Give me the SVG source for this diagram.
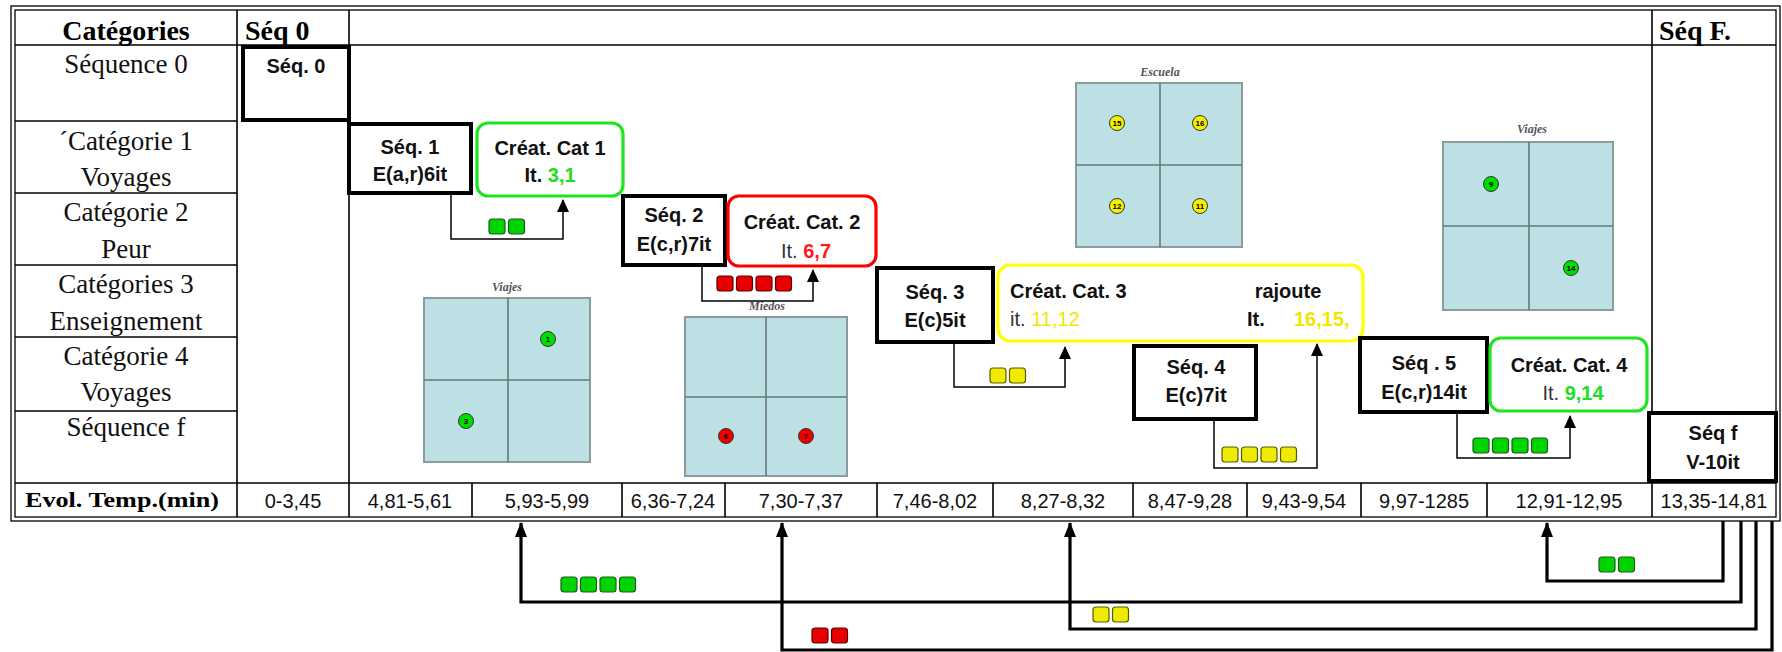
<svg xmlns="http://www.w3.org/2000/svg" width="1782" height="652" viewBox="0 0 1782 652">
<style>
  .tl{fill:none;stroke:#000;stroke-width:1.6}
  .bd{fill:none;stroke:#000;stroke-width:1.3}
  .hdr{font-family:"Liberation Serif","Times New Roman",serif;font-weight:bold;font-size:28px;fill:#000}
  .row{font-family:"Liberation Serif","Times New Roman",serif;font-size:27px;fill:#111;text-anchor:middle}
  .evl{font-family:"Liberation Serif","Times New Roman",serif;font-weight:bold;font-size:21px;fill:#000;text-anchor:middle}
  .cell{font-family:"Liberation Sans",Arial,sans-serif;font-size:20px;fill:#111;text-anchor:middle}
  .seq{fill:#fff;stroke:#000;stroke-width:4}
  .cat{fill:#fff;stroke-width:3.2}
  .bt{font-family:"Liberation Sans",Arial,sans-serif;font-weight:bold;font-size:20px;fill:#111}
  .mid{text-anchor:middle}
  .reg{font-weight:normal;fill:#333}
  .gT{fill:#22dd22}
  .rT{fill:#ff1a1a}
  .yT{fill:#f2e600}
  .sq{stroke-width:1.2}
  .sg{fill:#00d400;stroke:#1d5a1d}
  .sr{fill:#e80000;stroke:#5a0000}
  .sy{fill:#eeea00;stroke:#5c5a00}
  .grid{fill:#bce0e4;stroke:#8c9c9c;stroke-width:2}
  .gl{stroke:#66787a;stroke-width:1.6;fill:none}
  .glab{font-family:"Liberation Serif","Times New Roman",serif;font-style:italic;font-weight:bold;font-size:12px;fill:#555;text-anchor:middle}
  .dot{stroke:#333;stroke-width:1}
  .num{font-family:"Liberation Sans",Arial,sans-serif;font-size:8px;font-weight:bold;fill:#000;text-anchor:middle}
  .cn{fill:none;stroke:#000;stroke-width:1.5}
  .cnb{fill:none;stroke:#000;stroke-width:3.2}
</style>
<defs>
  <marker id="ah" markerUnits="userSpaceOnUse" markerWidth="13" markerHeight="12" refX="12" refY="6" orient="auto">
    <path d="M0,0 L13,6 L0,12 z" fill="#000"/>
  </marker>
  <marker id="ahb" markerUnits="userSpaceOnUse" markerWidth="15" markerHeight="12" refX="14" refY="6" orient="auto">
    <path d="M0,0 L15,6 L0,12 z" fill="#000"/>
  </marker>
</defs>

<g id="table">
  <rect class="bd" x="11" y="6" width="1769" height="515"/>
  <rect class="bd" x="15" y="10" width="1761" height="507"/>
  <path class="tl" d="M15,45 H1776 M15,483 H1776 M237,10 V517 M349,10 V517 M1652,10 V517
    M15,121 H237 M15,193 H237 M15,265 H237 M15,337 H237 M15,411 H237
    M472,483 V517 M622,483 V517 M725,483 V517 M877,483 V517 M993,483 V517 M1133,483 V517 M1247,483 V517 M1361,483 V517 M1487,483 V517"/>
  <text class="hdr" x="126" y="40" text-anchor="middle">Catégories</text>
  <text class="hdr" x="245" y="40">Séq 0</text>
  <text class="hdr" x="1659" y="40">Séq F.</text>
  <text class="row" x="126" y="73">Séquence 0</text>
  <text class="row" x="126" y="150">´Catégorie 1</text>
  <text class="row" x="126" y="186">Voyages</text>
  <text class="row" x="126" y="221">Catégorie 2</text>
  <text class="row" x="126" y="258">Peur</text>
  <text class="row" x="126" y="293">Catégories 3</text>
  <text class="row" x="126" y="330">Enseignement</text>
  <text class="row" x="126" y="365">Catégorie 4</text>
  <text class="row" x="126" y="401">Voyages</text>
  <text class="row" x="126" y="436">Séquence f</text>
  <text class="evl" x="122" y="507" textLength="194" lengthAdjust="spacingAndGlyphs">Evol. Temp.(min)</text>
  <text class="cell" x="293" y="508">0-3,45</text>
  <text class="cell" x="410" y="508">4,81-5,61</text>
  <text class="cell" x="547" y="508">5,93-5,99</text>
  <text class="cell" x="673" y="508">6,36-7,24</text>
  <text class="cell" x="801" y="508">7,30-7,37</text>
  <text class="cell" x="935" y="508">7,46-8,02</text>
  <text class="cell" x="1063" y="508">8,27-8,32</text>
  <text class="cell" x="1190" y="508">8,47-9,28</text>
  <text class="cell" x="1304" y="508">9,43-9,54</text>
  <text class="cell" x="1424" y="508">9,97-1285</text>
  <text class="cell" x="1569" y="508">12,91-12,95</text>
  <text class="cell" x="1714" y="508">13,35-14,81</text>
</g>

<g id="grid-viajes-1">
  <text class="glab" x="507" y="291">Viajes</text>
  <rect class="grid" x="424" y="298" width="166" height="164"/>
  <path class="gl" d="M508,298 V462 M424,380 H590"/>
  <circle class="dot" cx="548" cy="339" r="7.5" fill="#00dd00"/><text class="num" x="548" y="342">1</text>
  <circle class="dot" cx="466" cy="421" r="7.5" fill="#00dd00"/><text class="num" x="466" y="424">3</text>
</g>
<g id="grid-miedos">
  <text class="glab" x="767" y="310">Miedos</text>
  <rect class="grid" x="685" y="317" width="162" height="159"/>
  <path class="gl" d="M766,317 V476 M685,397 H847"/>
  <circle class="dot" cx="726" cy="436" r="7.5" fill="#ee0000"/><text class="num" x="726" y="439">6</text>
  <circle class="dot" cx="806" cy="436" r="7.5" fill="#ee0000"/><text class="num" x="806" y="439">7</text>
</g>
<g id="grid-escuela">
  <text class="glab" x="1160" y="76">Escuela</text>
  <rect class="grid" x="1076" y="83" width="166" height="164"/>
  <path class="gl" d="M1160,83 V247 M1076,165 H1242"/>
  <circle class="dot" cx="1117" cy="123" r="7.5" fill="#f4f000"/><text class="num" x="1117" y="126">15</text>
  <circle class="dot" cx="1200" cy="123" r="7.5" fill="#f4f000"/><text class="num" x="1200" y="126">16</text>
  <circle class="dot" cx="1117" cy="206" r="7.5" fill="#f4f000"/><text class="num" x="1117" y="209">12</text>
  <circle class="dot" cx="1200" cy="206" r="7.5" fill="#f4f000"/><text class="num" x="1200" y="209">11</text>
</g>
<g id="grid-viajes-2">
  <text class="glab" x="1532" y="133">Viajes</text>
  <rect class="grid" x="1443" y="142" width="170" height="168"/>
  <path class="gl" d="M1529,142 V310 M1443,226 H1613"/>
  <circle class="dot" cx="1491" cy="184" r="7.5" fill="#00dd00"/><text class="num" x="1491" y="187">9</text>
  <circle class="dot" cx="1571" cy="268" r="7.5" fill="#00dd00"/><text class="num" x="1571" y="271">14</text>
</g>

<g id="connectors">
  <path class="cn" d="M451,194 V239 H563 V200" marker-end="url(#ah)"/>
  <path class="cn" d="M702,266 V301 H813 V270" marker-end="url(#ah)"/>
  <path class="cn" d="M954,343 V387 H1065 V347" marker-end="url(#ah)"/>
  <path class="cn" d="M1214,420 V468 H1317 V344" marker-end="url(#ah)"/>
  <path class="cn" d="M1457,413 V458 H1570 V416" marker-end="url(#ah)"/>
  <path class="cnb" d="M1723,521 V581 H1547 V523" marker-end="url(#ahb)"/>
  <path class="cnb" d="M1741,521 V602 H521 V523" marker-end="url(#ahb)"/>
  <path class="cnb" d="M1756,521 V629 H1070 V523" marker-end="url(#ahb)"/>
  <path class="cnb" d="M1772,521 V650 H782 V523" marker-end="url(#ahb)"/>
  <g id="squares">
    <rect class="sq sg" x="489" y="219" width="16" height="15" rx="3"/><rect class="sq sg" x="508.5" y="219" width="16" height="15" rx="3"/>
    <rect class="sq sr" x="717" y="276" width="16" height="15" rx="3"/><rect class="sq sr" x="736.5" y="276" width="16" height="15" rx="3"/><rect class="sq sr" x="756" y="276" width="16" height="15" rx="3"/><rect class="sq sr" x="775.5" y="276" width="16" height="15" rx="3"/>
    <rect class="sq sy" x="990" y="368" width="16" height="15" rx="3"/><rect class="sq sy" x="1009.5" y="368" width="16" height="15" rx="3"/>
    <rect class="sq sy" x="1222" y="447" width="16" height="15" rx="3"/><rect class="sq sy" x="1241.5" y="447" width="16" height="15" rx="3"/><rect class="sq sy" x="1261" y="447" width="16" height="15" rx="3"/><rect class="sq sy" x="1280.5" y="447" width="16" height="15" rx="3"/>
    <rect class="sq sg" x="1473" y="438" width="16" height="15" rx="3"/><rect class="sq sg" x="1492.5" y="438" width="16" height="15" rx="3"/><rect class="sq sg" x="1512" y="438" width="16" height="15" rx="3"/><rect class="sq sg" x="1531.5" y="438" width="16" height="15" rx="3"/>
    <rect class="sq sg" x="561" y="577" width="16" height="15" rx="3"/><rect class="sq sg" x="580.5" y="577" width="16" height="15" rx="3"/><rect class="sq sg" x="600" y="577" width="16" height="15" rx="3"/><rect class="sq sg" x="619.5" y="577" width="16" height="15" rx="3"/>
    <rect class="sq sr" x="812" y="628" width="16" height="15" rx="3"/><rect class="sq sr" x="831.5" y="628" width="16" height="15" rx="3"/>
    <rect class="sq sy" x="1093" y="607" width="16" height="15" rx="3"/><rect class="sq sy" x="1112.5" y="607" width="16" height="15" rx="3"/>
    <rect class="sq sg" x="1599" y="557" width="16" height="15" rx="3"/><rect class="sq sg" x="1618.5" y="557" width="16" height="15" rx="3"/>
  </g>
</g>

<g id="seq0">
  <rect class="seq" x="243" y="47" width="106" height="73"/>
  <text class="bt mid" x="296" y="73">Séq. 0</text>
</g>
<g id="seq1">
  <rect class="seq" x="349" y="124" width="122" height="69"/>
  <text class="bt mid" x="410" y="154">Séq. 1</text>
  <text class="bt mid" x="410" y="181">E(a,r)6it</text>
</g>
<g id="cat1">
  <rect class="cat" x="477" y="123" width="146" height="73" rx="11" stroke="#1ee61e"/>
  <text class="bt mid" x="550" y="155">Créat. Cat 1</text>
  <text class="bt mid" x="550" y="182">It. <tspan class="gT">3,1</tspan></text>
</g>
<g id="seq2">
  <rect class="seq" x="623" y="196" width="102" height="69"/>
  <text class="bt mid" x="674" y="222">Séq.  2</text>
  <text class="bt mid" x="674" y="251">E(c,r)7it</text>
</g>
<g id="cat2">
  <rect class="cat" x="728" y="196" width="148" height="70" rx="11" stroke="#ff0000"/>
  <text class="bt mid" x="802" y="229">Créat. Cat. 2</text>
  <text class="bt mid" x="806" y="258"><tspan class="reg">It. </tspan><tspan class="rT">6,7</tspan></text>
</g>
<g id="seq3">
  <rect class="seq" x="877" y="268" width="116" height="74"/>
  <text class="bt mid" x="935" y="299">Séq. 3</text>
  <text class="bt mid" x="935" y="327">E(c)5it</text>
</g>
<g id="cat3">
  <rect class="cat" x="998" y="265" width="365" height="76" rx="12" stroke="#ffff00"/>
  <text class="bt" x="1010" y="298">Créat. Cat. 3</text>
  <text class="bt" x="1010" y="326"><tspan class="reg" fill="#111">it. </tspan><tspan class="yT" font-weight="normal">11,12</tspan></text>
  <text class="bt mid" x="1288" y="298">rajoute</text>
  <text class="bt" x="1247" y="326">It.</text>
  <text class="bt yT" x="1294" y="326" font-weight="normal">16,15,</text>
</g>
<g id="seq4">
  <rect class="seq" x="1134" y="346" width="122" height="73"/>
  <text class="bt mid" x="1196" y="374">Séq. 4</text>
  <text class="bt mid" x="1196" y="402">E(c)7it</text>
</g>
<g id="seq5">
  <rect class="seq" x="1360" y="338" width="127" height="74"/>
  <text class="bt mid" x="1424" y="370">Séq . 5</text>
  <text class="bt mid" x="1424" y="399">E(c,r)14it</text>
</g>
<g id="cat4">
  <rect class="cat" x="1490" y="338" width="157" height="73" rx="11" stroke="#1ee61e"/>
  <text class="bt mid" x="1569" y="372">Créat. Cat. 4</text>
  <text class="bt mid" x="1573" y="400"><tspan class="reg">It. </tspan><tspan class="gT">9,14</tspan></text>
</g>
<g id="seqf">
  <rect class="seq" x="1649" y="413" width="127" height="68"/>
  <text class="bt mid" x="1713" y="440">Séq f</text>
  <text class="bt mid" x="1713" y="469">V-10it</text>
</g>
</svg>
